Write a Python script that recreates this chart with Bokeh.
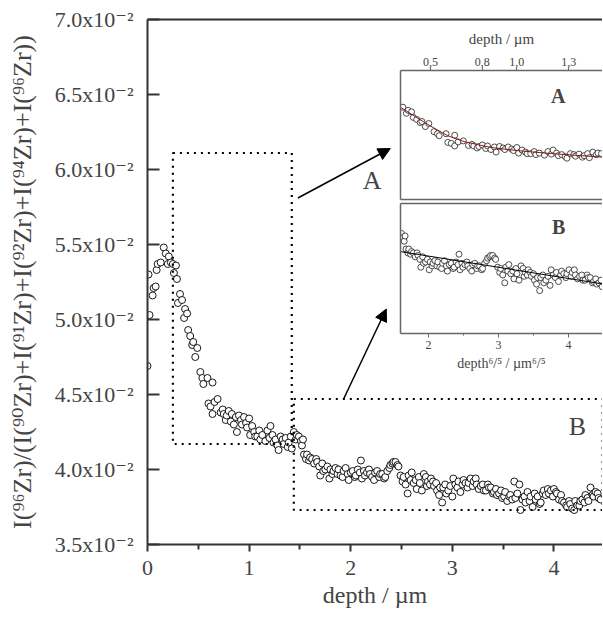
import numpy as np
from bokeh.plotting import figure
from bokeh.layouts import column
from bokeh.models import (LinearAxis, FixedTicker, Range1d, ColumnDataSource, Arrow,
                          NormalHead, Label, CustomJSTickFormatter)
from bokeh.embed import file_html
from bokeh.resources import INLINE

# ---------------- data (depth in µm, ratio in units of 1e-2) ----------------
depth = [
    0.00, 0.02, 0.01, 0.05, 0.06, 0.08, 0.09, 0.10, 0.13, 0.16, 0.18, 0.20, 0.21, 0.23, 0.25, 0.26, 0.28, 0.29,
    0.30, 0.32, 0.34, 0.36, 0.37, 0.39, 0.40, 0.42, 0.44, 0.45, 0.47, 0.49, 0.52, 0.54, 0.55, 0.59, 0.60, 0.62,
    0.64, 0.64, 0.66, 0.69,
    0.72, 0.74, 0.75, 0.77, 0.78, 0.80, 0.82, 0.83, 0.85, 0.87, 0.88, 0.90, 0.92, 0.93, 0.95, 0.97, 0.98, 1.00,
    1.01, 1.03, 1.05, 1.06, 1.08, 1.10, 1.11, 1.13, 1.16, 1.18, 1.20, 1.21, 1.23, 1.24, 1.26, 1.28, 1.29, 1.31,
    1.33, 1.34, 1.36, 1.38, 1.39, 1.41, 1.42, 1.44, 1.46, 1.47, 1.49, 1.51, 1.52, 1.53, 1.54, 1.56, 1.57, 1.59,
    1.60, 1.62,
    1.64, 1.66, 1.67, 1.69, 1.70, 1.72, 1.73, 1.75, 1.77, 1.79, 1.80, 1.82, 1.83, 1.85, 1.87, 1.88, 1.90, 1.92,
    1.93, 1.95, 1.97, 1.98, 2.00, 2.02, 2.04, 2.05, 2.07, 2.09, 2.10, 2.11, 2.13, 2.14, 2.16, 2.18, 2.19, 2.21,
    2.23, 2.24, 2.26, 2.28, 2.29, 2.31, 2.33, 2.34, 2.36, 2.38, 2.39, 2.41, 2.42, 2.44, 2.46, 2.47, 2.49, 2.51,
    2.52, 2.54, 2.56, 2.57, 2.59, 2.60, 2.62, 2.64, 2.65, 2.67, 2.68, 2.70, 2.72, 2.74, 2.75, 2.76, 2.78, 2.79,
    2.81, 2.82, 2.84, 2.85, 2.87, 2.88, 2.90, 2.91, 2.93, 2.94, 2.96, 2.98, 3.00, 3.01, 3.03, 3.05, 3.06, 3.08,
    3.10, 3.11, 3.13, 3.15, 3.16, 3.18, 3.20, 3.21, 3.23, 3.24, 3.26, 3.28, 3.30, 3.31, 3.33, 3.35, 3.36, 3.38,
    3.40, 3.41, 3.43, 3.44, 3.46, 3.48, 3.49, 3.51, 3.52, 3.54, 3.56, 3.57, 3.59, 3.61, 3.62, 3.64, 3.66, 3.67,
    3.69, 3.71, 3.72, 3.74, 3.76, 3.77, 3.79, 3.81, 3.82, 3.84, 3.86, 3.87, 3.89, 3.90, 3.92, 3.94, 3.95, 3.97,
    3.99, 4.00, 4.02, 4.03, 4.05, 4.07, 4.08, 4.10, 4.12, 4.13, 4.15, 4.16, 4.18, 4.20, 4.21, 4.23, 4.25, 4.26,
    4.28, 4.30, 4.31, 4.33, 4.34, 4.36, 4.38, 4.39, 4.41, 4.43, 4.44, 4.46,
]
ratio_e2 = [
    4.69, 5.03, 5.30, 5.16, 5.21, 5.22, 5.33, 5.37, 5.38, 5.48, 5.44, 5.37, 5.42, 5.38, 5.37, 5.31, 5.36, 5.27,
    5.11, 5.17, 5.13, 5.01, 5.07, 5.04, 4.93, 4.89, 4.83, 4.85, 4.75, 4.81, 4.65, 4.61, 4.57, 4.61, 4.44, 4.42,
    4.58, 4.37, 4.45, 4.47,
    4.38, 4.40, 4.37, 4.33, 4.36, 4.39, 4.32, 4.37, 4.30, 4.35, 4.25, 4.36, 4.33, 4.30, 4.35, 4.31, 4.28, 4.34,
    4.23, 4.29, 4.25, 4.22, 4.22, 4.26, 4.20, 4.23, 4.19, 4.26, 4.21, 4.29, 4.23, 4.18, 4.20, 4.16, 4.13, 4.22,
    4.20, 4.17, 4.21, 4.15, 4.18, 4.22, 4.14, 4.25, 4.20, 4.23, 4.22, 4.19, 4.16, 4.20, 4.10, 4.07, 4.10, 4.06,
    4.08, 4.07,
    4.04, 4.07, 4.05, 4.02, 3.96, 4.04, 3.99, 4.00, 4.02, 3.94, 4.00, 3.97, 3.99, 4.01, 3.97, 4.00, 3.96, 3.95,
    3.99, 4.01, 3.97, 3.93, 3.98, 3.99, 3.95, 3.96, 4.00, 3.98, 4.06, 3.94, 3.99, 3.96, 3.98, 4.00, 3.97, 3.95,
    3.93, 3.98, 3.99, 3.95, 3.97, 3.97, 3.94, 3.95, 3.99, 4.01, 4.03, 4.04, 4.05, 4.05, 4.03, 4.02, 3.96, 3.92,
    3.95, 3.90, 3.84, 3.96, 3.93, 3.98, 3.91, 3.93, 3.87, 3.95, 3.91, 3.86, 3.97, 3.95, 3.89, 3.92, 3.90, 3.94,
    3.92, 3.89, 3.91, 3.86, 3.83, 3.88, 3.78, 3.88, 3.90, 3.84, 3.86, 3.89, 3.82, 3.94, 3.90, 3.88, 3.92, 3.85,
    3.90, 3.93, 3.91, 3.88, 3.91, 3.94, 3.89, 3.92, 3.94, 3.90, 3.87, 3.89, 3.90, 3.86, 3.86, 3.90, 3.88, 3.88,
    3.84, 3.85, 3.87, 3.83, 3.84, 3.86, 3.81, 3.82, 3.85, 3.79, 3.82, 3.83, 3.80, 3.92, 3.81, 3.84, 3.90, 3.73,
    3.80, 3.82, 3.78, 3.85, 3.79, 3.82, 3.75, 3.84, 3.80, 3.82, 3.77, 3.78, 3.84, 3.86, 3.83, 3.87, 3.84, 3.86,
    3.82, 3.87, 3.85, 3.84, 3.80, 3.83, 3.79, 3.78, 3.76, 3.75, 3.79, 3.77, 3.74, 3.73, 3.79, 3.76, 3.76, 3.79,
    3.80, 3.78, 3.83, 3.81, 3.79, 3.88, 3.83, 3.82, 3.85, 3.84, 3.81, 3.80,
]

x_ticks = [0, 1, 2, 3, 4]
y_ticks = [3.5, 4.0, 4.5, 5.0, 5.5, 6.0, 6.5, 7.0]

# zoom boxes drawn on the main plot (depth, ratio_e2)
box_a = dict(left=0.25, right=1.42, bottom=4.17, top=6.11)
box_b = dict(left=1.44, right=4.48, bottom=3.73, top=4.47)

# inset A: depth axis, fitted curve
inset_a_ticks = [0.5, 0.8, 1.0, 1.3]
fit_a_depth = [0.33, 0.40, 0.50, 0.60, 0.70, 0.85, 1.00, 1.20, 1.50]
fit_a_ratio = [5.12, 4.97, 4.76, 4.57, 4.45, 4.34, 4.28, 4.22, 4.15]

# inset B: depth^(6/5) axis, fitted line
inset_b_ticks = [2, 3, 4]
fit_b_x = [1.6, 4.5]
fit_b_ratio = [4.08, 3.83]

SERIF = "'Liberation Serif', 'DejaVu Serif', serif"
AX = "#333333"

# ---------------- main figure ----------------
p = figure(width=602, height=620, x_range=Range1d(0, 4.478), y_range=Range1d(3.5, 7.0),
           output_backend="svg", toolbar_location=None,
           min_border_left=147, min_border_right=0, min_border_top=19, min_border_bottom=76)
p.outline_line_color = None
p.xgrid.visible = False
p.ygrid.visible = False

src = ColumnDataSource(dict(x=depth, y=ratio_e2))
p.scatter("x", "y", source=src, size=7, marker="circle", fill_color="white",
          line_color="black", line_width=0.9)

for box in (box_a, box_b):
    p.quad(left=[box["left"]], right=[box["right"]], bottom=[box["bottom"]], top=[box["top"]],
           fill_color=None, line_color="black", line_width=2.2, line_dash="2 5")

xa = p.xaxis[0]
xa.ticker = FixedTicker(ticks=x_ticks, minor_ticks=[t + 0.5 for t in x_ticks])
xa.axis_label = "depth / µm"
xa.axis_label_text_font = SERIF
xa.axis_label_text_font_style = "normal"
xa.axis_label_text_font_size = "24px"
xa.axis_label_standoff = 4
xa.major_label_text_font = SERIF
xa.major_label_text_font_size = "22px"
xa.major_label_standoff = 9
xa.major_tick_in = 0
xa.major_tick_out = 7
xa.minor_tick_in = 0
xa.minor_tick_out = 5
xa.axis_line_color = AX
xa.axis_line_width = 2
xa.major_tick_line_color = AX
xa.major_tick_line_width = 2
xa.minor_tick_line_color = AX
xa.minor_tick_line_width = 2

ya = p.yaxis[0]
ya.ticker = FixedTicker(ticks=y_ticks, minor_ticks=[])
ya.formatter = CustomJSTickFormatter(code="return tick.toFixed(1) + 'x10\u207b\u00b2';")
ya.axis_label = "I(\u2079\u2076Zr)/(I(\u2079\u2070Zr)+I(\u2079\u00b9Zr)+I(\u2079\u00b2Zr)+I(\u2079\u2074Zr)+I(\u2079\u2076Zr))"
ya.axis_label_text_font = SERIF
ya.axis_label_text_font_style = "normal"
ya.axis_label_text_font_size = "26px"
ya.axis_label_standoff = 15
ya.major_label_text_font = SERIF
ya.major_label_text_font_size = "22px"
ya.major_label_standoff = 14
ya.major_tick_in = 12
ya.major_tick_out = 0
ya.axis_line_color = AX
ya.axis_line_width = 2
ya.major_tick_line_color = AX
ya.major_tick_line_width = 2

top = LinearAxis(ticker=FixedTicker(ticks=[], minor_ticks=[]), axis_line_color=AX, axis_line_width=2,
                 major_tick_line_color=None, minor_tick_line_color=None,
                 major_label_text_font_size="0px", major_label_standoff=0)
p.add_layout(top, "above")

p.add_layout(Label(x=2.21, y=5.93, text="A", text_font=SERIF, text_font_size="26px",
                   text_align="center", text_baseline="middle"))
p.add_layout(Label(x=4.23, y=4.29, text="B", text_font=SERIF, text_font_size="26px",
                   text_align="center", text_baseline="middle"))

p.add_layout(Arrow(x_start=1.48, y_start=5.81, x_end=2.39, y_end=6.14, line_width=1.5,
                   end=NormalHead(size=12, fill_color="black", line_color="black")))
p.add_layout(Arrow(x_start=1.93, y_start=4.47, x_end=2.35, y_end=5.07, line_width=1.5,
                   end=NormalHead(size=12, fill_color="black", line_color="black")))

# ---------------- inset ----------------
IAX = "#666666"
d_arr = np.array(depth)
r_arr = np.array(ratio_e2)


def plain_axis():
    return LinearAxis(ticker=FixedTicker(ticks=[], minor_ticks=[]), axis_line_color=IAX, axis_line_width=1.5,
                      major_tick_line_color=None, minor_tick_line_color=None,
                      major_label_text_font_size="0px", major_label_standoff=0)


A_LO, A_HI = 0.326, 1.496
pA = figure(width=204, height=179, x_range=Range1d(A_LO, A_HI), y_range=Range1d(3.32, 5.85),
            output_backend="svg", toolbar_location=None, x_axis_location="above",
            min_border_left=2, min_border_right=0, min_border_top=48, min_border_bottom=2)
pA.outline_line_color = None
pA.xgrid.visible = False
pA.ygrid.visible = False
mA = (d_arr >= A_LO) & (d_arr <= A_HI)
pA.scatter(d_arr[mA], r_arr[mA], size=6, marker="circle", fill_color="white",
           line_color="#222222", line_width=0.8)
pA.line(fit_a_depth, fit_a_ratio, line_color="#8b1a1a", line_width=1)
ta = pA.xaxis[0]
ta.ticker = FixedTicker(ticks=inset_a_ticks, minor_ticks=[])
ta.formatter = CustomJSTickFormatter(code="return tick.toFixed(1).replace('.', ',');")
ta.axis_label = "depth / µm"
ta.axis_label_text_font = SERIF
ta.axis_label_text_font_style = "normal"
ta.axis_label_text_font_size = "15px"
ta.axis_label_standoff = 8
ta.major_label_text_font = SERIF
ta.major_label_text_font_size = "12px"
ta.major_label_standoff = 2
ta.major_tick_in = 0
ta.major_tick_out = 3
ta.axis_line_color = IAX
ta.axis_line_width = 1.5
ta.major_tick_line_color = IAX
la = pA.yaxis[0]
la.ticker = FixedTicker(ticks=[], minor_ticks=[])
la.axis_line_color = IAX
la.axis_line_width = 1.5
la.major_tick_line_color = None
la.minor_tick_line_color = None
la.major_label_text_font_size = "0px"
la.major_label_standoff = 0
pA.add_layout(plain_axis(), "below")
pA.add_layout(Label(x=1.24, y=5.35, text="A", text_font=SERIF, text_font_style="bold",
                    text_font_size="20px", text_align="center", text_baseline="middle"))

B_LO, B_HI = 1.6, 4.486
pB = figure(width=204, height=177, x_range=Range1d(B_LO, B_HI), y_range=Range1d(3.45, 4.45),
            output_backend="svg", toolbar_location=None,
            min_border_left=2, min_border_right=0, min_border_top=2, min_border_bottom=45)
pB.outline_line_color = None
pB.xgrid.visible = False
pB.ygrid.visible = False
hb = d_arr ** 1.2
mB = (hb >= B_LO) & (hb <= B_HI)
pB.scatter(hb[mB], r_arr[mB], size=6, marker="circle", fill_color="white",
           line_color="#222222", line_width=0.8)
pB.line(fit_b_x, fit_b_ratio, line_color="black", line_width=1)
bb = pB.xaxis[0]
bb.ticker = FixedTicker(ticks=inset_b_ticks, minor_ticks=[t + 0.5 for t in inset_b_ticks])
bb.axis_label = "depth\u2076/\u2075 / µm\u2076/\u2075"
bb.axis_label_text_font = SERIF
bb.axis_label_text_font_style = "normal"
bb.axis_label_text_font_size = "14px"
bb.axis_label_standoff = 4
bb.major_label_text_font = SERIF
bb.major_label_text_font_size = "12px"
bb.major_label_standoff = 3
bb.major_tick_in = 0
bb.major_tick_out = 4
bb.minor_tick_in = 0
bb.minor_tick_out = 2
bb.axis_line_color = IAX
bb.axis_line_width = 1.5
bb.major_tick_line_color = IAX
bb.minor_tick_line_color = IAX
lb = pB.yaxis[0]
lb.ticker = FixedTicker(ticks=[], minor_ticks=[])
lb.axis_line_color = IAX
lb.axis_line_width = 1.5
lb.major_tick_line_color = None
lb.minor_tick_line_color = None
lb.major_label_text_font_size = "0px"
lb.major_label_standoff = 0
pB.add_layout(plain_axis(), "above")
pB.add_layout(Label(x=3.86, y=4.27, text="B", text_font=SERIF, text_font_style="bold",
                    text_font_size="20px", text_align="center", text_baseline="middle"))

inset = column(pA, pB, spacing=0)
inset.margin = (-598, 0, 0, 398)

layout = column(p, inset, spacing=0)

with open("out.html", "w") as f:
    f.write(file_html(layout, INLINE))
